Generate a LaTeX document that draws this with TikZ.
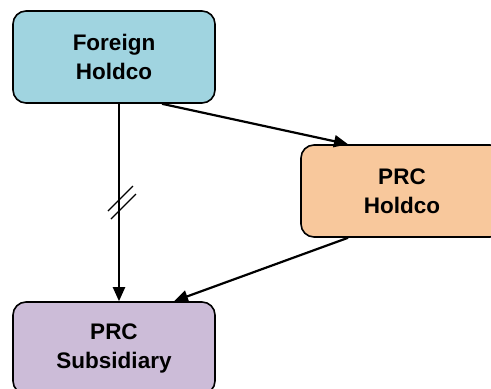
\documentclass[tikz,border=0pt]{standalone}
\usepackage{fontspec}
\setmainfont{Liberation Sans}
\usetikzlibrary{arrows.meta}
\definecolor{fhblue}{HTML}{A0D4E0}
\definecolor{phorange}{HTML}{F8C89C}
\definecolor{subpurple}{HTML}{CCBCD8}
\tikzset{
  box/.style={draw=black, line width=1.6pt, rounded corners=13pt, minimum width=202pt, minimum height=92pt,
    align=center, font=\fontsize{22.5}{29}\selectfont\bfseries, inner sep=0pt},
  arr/.style={line width=2.2pt, -{Triangle[length=14pt,width=12pt]}},
  slash/.style={line width=1.2pt}
}
\begin{document}
\begin{tikzpicture}[x=1pt,y=-1pt]
\useasboundingbox (0,0) rectangle (491,389);
\clip (0,0) rectangle (491,389);
\node[box, fill=fhblue] (fh) at (114,57) {Foreign\\Holdco};
\node[box, fill=phorange] (ph) at (402,191) {PRC\\Holdco};
\node[box, fill=subpurple] (sub) at (114,348) {PRC\\Subsidiary};
\draw[arr] ([xshift=5pt]fh.south) -- ([xshift=5pt]sub.north);
\draw[arr] ([xshift=48pt]fh.south) -- ([xshift=-54pt]ph.north);
\draw[arr] ([xshift=-54pt]ph.south) -- ([xshift=60pt]sub.north);
\coordinate (s1a) at (108,211);
\coordinate (s1b) at (133,186);
\coordinate (s2a) at (111,219);
\coordinate (s2b) at (136,194);
\draw[slash] (s1a) -- (s1b);
\draw[slash] (s2a) -- (s2b);
\end{tikzpicture}
\end{document}
